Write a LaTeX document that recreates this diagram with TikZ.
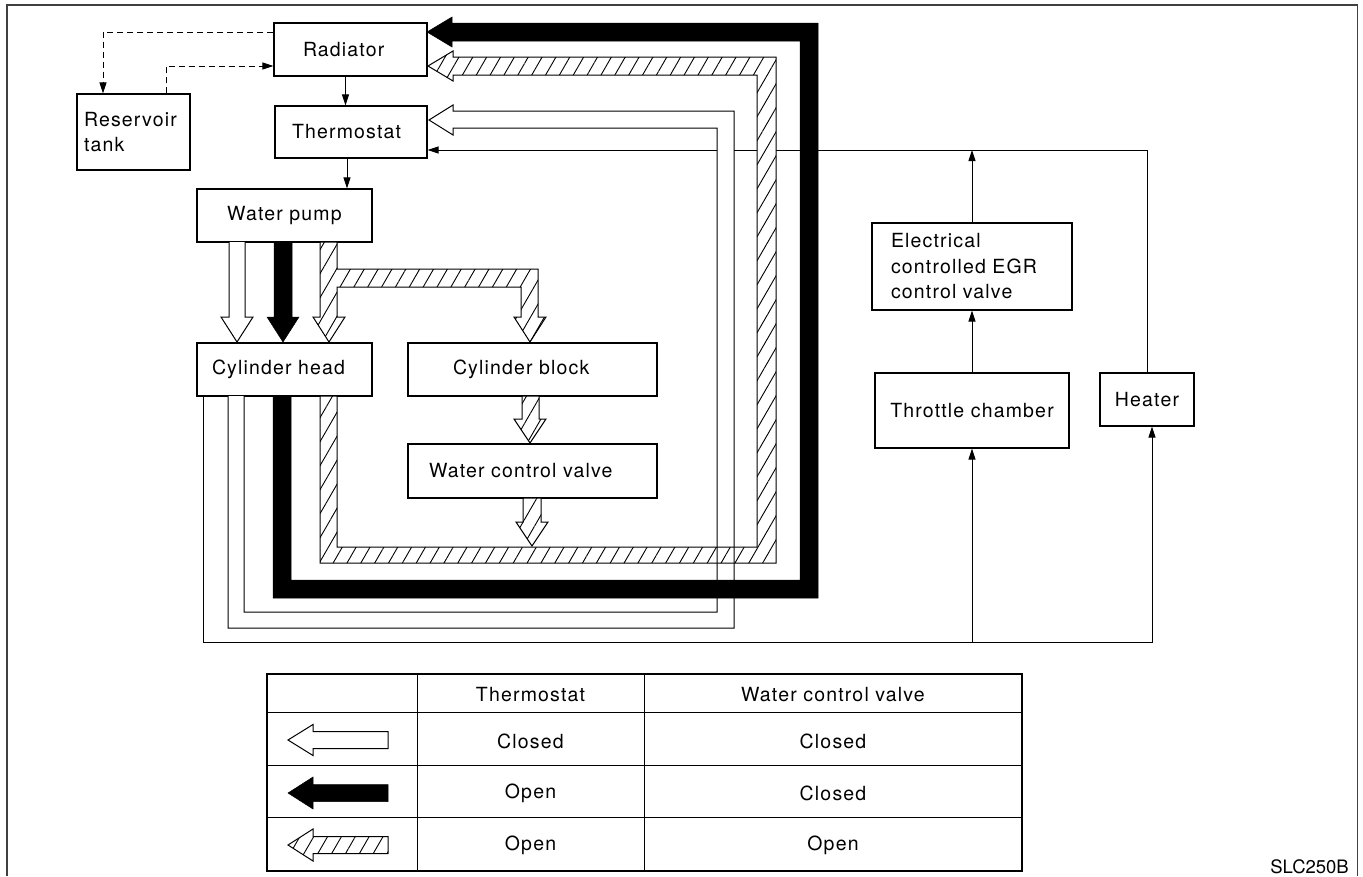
\documentclass[tikz,border=0pt]{standalone}
\usepackage{fontspec}
\setmainfont{TeX Gyre Heros}[LetterSpace=6]
\newfontfamily\tagfont{TeX Gyre Heros}
\usetikzlibrary{positioning,arrows.meta,patterns.meta}
\newcommand\lbl{\fontsize{19.5}{25.5}\selectfont}

\begin{document}
\begin{tikzpicture}[
    x=1pt,y=-1pt,
    box/.style={draw,line width=1.1pt,inner sep=0pt,font=\lbl},
    txt/.style={inner sep=0pt,font=\lbl},
    tip/.style={-{Triangle[length=11pt,width=7pt]},line width=1pt},
    dashline/.style={tip,dash pattern=on 6pt off 4pt},
    hollow/.style={draw,line width=1pt,fill=white},
    hatch/.style={draw,line width=1pt,preaction={fill=white},
                  pattern={Lines[angle=60,distance=12pt,line width=0.9pt]}},
    blackflow/.style={draw,fill=black,line width=0.5pt}]
\useasboundingbox (0,0) rectangle (1363,876);
\draw[line width=1.8pt,black!75] (7,876) -- (7,5) -- (1357.5,5) -- (1357.5,876);

% components
\node[box,minimum width=153pt,minimum height=53pt,text width=95pt,align=left] (radiator) at (350.5,49.5) {Radiator};
\node[box,minimum width=113pt,minimum height=76pt,text width=99pt,align=left] (reservoir) at (133.5,132) {Reservoir\\tank};
\node[box,minimum width=152pt,minimum height=52pt,text width=118pt,align=left] (thermostat) at (351,132) {Thermostat};
\node[box,minimum width=175pt,minimum height=53pt] (pump) at (284.5,215.5) {Water pump};
\node[box,minimum width=175pt,minimum height=53pt,text width=145pt,align=left] (head) at (284.5,369.5) {Cylinder head};
\node[box,minimum width=249pt,minimum height=53pt,text width=159pt,align=left] (block) at (532.5,369.5) {Cylinder block};
\node[box,minimum width=249pt,minimum height=54pt,text width=207pt,align=left] (wcv) at (532.5,471) {Water control valve};
\node[box,minimum width=200pt,minimum height=87pt,text width=162pt,align=left] (egr) at (972,266.5) {Electrical\\controlled EGR\\control valve};
\node[box,minimum width=194pt,minimum height=75pt] (throttle) at (972,410.5) {Throttle chamber};
\node[box,minimum width=94pt,minimum height=53pt] (heater) at (1147,399.5) {Heater};

% thin lines
\coordinate (hline) at ([yshift=-18pt]thermostat.east);
\coordinate (low) at (203,642);
\coordinate (htin) at ([xshift=5pt]heater.south);
\draw[dashline] ([yshift=17.5pt]radiator.west) -| ([xshift=-30.5pt]reservoir.north);
\draw[dashline] ([xshift=32.5pt]reservoir.north) |- ([yshift=-16.5pt]radiator.west);
\draw[tip] ([xshift=-5pt]radiator.south) -- ([xshift=-5pt]radiator.south |- thermostat.north);
\draw[tip] ([xshift=-4pt]thermostat.south) -- ([xshift=-4pt]thermostat.south |- pump.north);
\draw[tip] (heater.north) |- (hline);
\draw[tip] (egr.north) -- (egr.north |- hline);
\draw[tip] (throttle.north) -- (egr.south);
\draw[tip] ([xshift=-81.5pt]head.south) |- (htin |- low) -- (htin);
\draw[tip] (throttle.south |- low) -- (throttle.south);

% flows: thermostat closed
\fill[white] (228,396) -- (228,628) -- (734,628) -- (734,111) -- (453,111) -- (453,105) -- (429,120)
  -- (453,135) -- (453,128) -- (717,128) -- (717,612) -- (244,612) -- (244,396) -- cycle;

% flows: thermostat and valve open
\path[hatch] (320,396) -- (320,563) -- (776,563) -- (776,57) -- (453,57) -- (453,51) -- (428,66)
  -- (453,81) -- (453,75) -- (757,75) -- (757,547) -- (337,547) -- (337,396) -- cycle;
\path[hatch] (320,242) -- (320,317) -- (313,317) -- (329,342) -- (345,317) -- (337,317) -- (337,287)
  -- (521,287) -- (521,317) -- (514,317) -- (530,342) -- (546,317) -- (538,317) -- (538,269)
  -- (337,269) -- (337,242) -- cycle;
\path[hatch] (522,396) -- (522,419) -- (514,419) -- (530,443) -- (546,419) -- (539,419) -- (539,396) -- cycle;
\path[hatch] (523,498) -- (523,522) -- (516,522) -- (532,546) -- (548,522) -- (541,522) -- (541,498) -- cycle;

\draw[line width=1pt] (228,396) -- (228,628) -- (734,628) -- (734,111) -- (453,111) -- (453,105) -- (429,120)
  -- (453,135) -- (453,128) -- (717,128) -- (717,612) -- (244,612) -- (244,396);
\draw[hollow] (229,242) -- (229,317) -- (221,317) -- (237,342) -- (253,317) -- (245,317) -- (245,242);

% flows: thermostat open, valve closed
\path[blackflow] (273,396) -- (273,598) -- (818,598) -- (818,23) -- (452,23) -- (452,17) -- (427,32)
  -- (452,47) -- (452,41) -- (800,41) -- (800,580) -- (291,580) -- (291,396) -- cycle;
\path[blackflow] (274,242) -- (274,317) -- (267,317) -- (283,342) -- (299,317) -- (292,317) -- (292,242) -- cycle;

% legend
\draw[line width=1.1pt] (267,674) rectangle (1022,871);
\foreach \y in {712,765,817} \draw[line width=1pt] (267,\y) -- (1022,\y);
\foreach \x in {417,644} \draw[line width=1pt] (\x,674) -- (\x,871);
\path[hollow] (388,731.5) -- (313,731.5) -- (313,724.5) -- (288,740) -- (313,755.5) -- (313,748.5) -- (388,748.5) -- cycle;
\path[blackflow] (388,784.5) -- (313,784.5) -- (313,777) -- (288,793) -- (313,809) -- (313,801.5) -- (388,801.5) -- cycle;
\path[hatch] (388,836.5) -- (313,836.5) -- (313,829) -- (288,845) -- (313,861) -- (313,853.5) -- (388,853.5) -- cycle;
\node[txt] (hdtherm) at (530.5,695) {Thermostat};
\node[txt] (hdvalve) at (833,695) {Water control valve};
\node[txt] (thclosed) at (530.5,741) {Closed};
\node[txt] (vaclosed) at (833,741) {Closed};
\node[txt] (thopen) at (530.5,793) {Open};
\node[txt] (vaclosedb) at (833,793) {Closed};
\node[txt] (thopenb) at (530.5,845) {Open};
\node[txt] (vaopen) at (833,845) {Open};

\node[inner sep=0pt,anchor=base east,font=\tagfont\fontsize{18.5}{20}\selectfont] (code) at (1349,873) {SLC250B};
\end{tikzpicture}
\end{document}
